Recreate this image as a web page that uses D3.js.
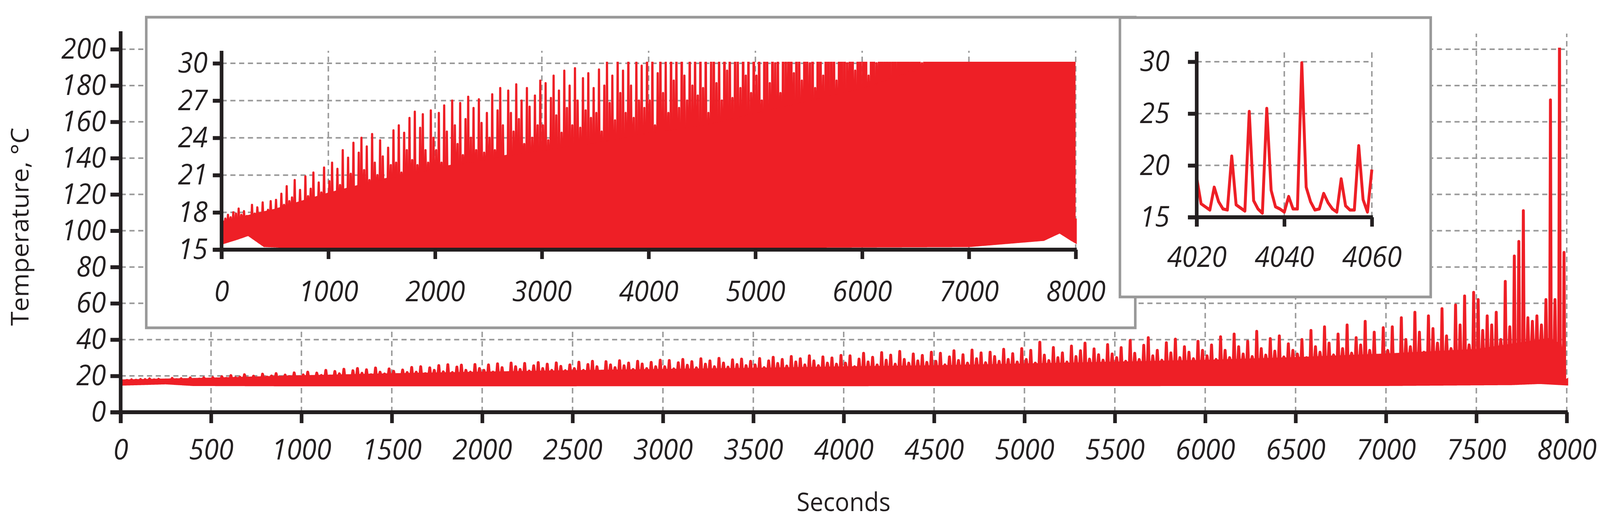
<!DOCTYPE html>
<html><head><meta charset="utf-8">
<script src="https://cdn.jsdelivr.net/npm/d3@7/dist/d3.min.js"></script>
<style>html,body{margin:0;padding:0;overflow:hidden;background:#fff}svg{display:block;width:100vw;height:100vh}</style></head>
<body><svg id="c" viewBox="0 0 4376 1336" preserveAspectRatio="none"></svg>
<script>
// ---- data ----
const mainXTicks = d3.range(0, 8001, 500);
const mainYTicks = d3.range(0, 201, 20);
const inset1XTicks = [0,1000,2000,3000,4000,5000,6000,7000,8000];
const inset1YTicks = [15,18,21,24,27,30];
const inset2XTicks = [4020,4040,4060];
const inset2YTicks = [15,20,25,30];
// spike peaks, 20 per 500 s segment (every 25 s)
const spikePeaks = [
 17.2,17.5,17.8,17.6,18.0,17.9,18.3,17.8,18.1,17.7,17.5,18.6,17.9,18.4,17.6,18.8,17.7,18.2,18.9,17.8,
 19.0,18.2,19.5,18.6,20.1,18.9,19.2,20.6,18.7,19.8,18.5,20.9,19.3,19.9,21.2,18.8,20.4,19.6,21.6,19.0,
 20.5,22.0,19.5,21.5,20.2,23.0,19.8,22.4,21.1,23.6,20.0,22.8,24.0,21.4,23.3,20.6,24.3,22.0,21.0,23.8,
 22.5,20.5,23.2,21.8,24.6,22.0,25.0,21.2,24.4,23.0,25.6,22.2,26.1,21.8,24.8,25.9,23.0,22.0,26.2,24.0,
 23.0,26.0,22.0,26.6,24.5,21.5,27.0,25.0,23.5,26.8,22.6,25.5,27.3,24.0,26.4,23.0,27.1,25.2,22.8,26.0,
 24,27.5,23,26.2,28,25,22.5,27.8,26,24.5,28.3,25.5,27,23.5,28.0,26.5,24,27.4,25,28.6,
 25,28.4,23.8,27.2,29,25.8,27.8,24.4,29.4,26.4,28.2,25,29.6,27,24.8,28.8,26.2,29.2,25.6,28,
 26,29.5,24.5,28.2,30.2,26.8,29,25.4,30.6,27.6,29.4,26,31,28.2,25.6,30.4,27,29.8,26.4,31.2,
 27,31,25,29.2,32.4,27.6,30.2,26,32.8,28.6,31.4,26.4,33.4,29,27,32,28.2,31.2,27.4,33,
 28,32.4,26,30.4,33.8,28.4,31.6,27,34.2,29.4,32.6,27.2,33,30.6,28,34.6,29,32.2,27.6,35,
 29,34,27,38.5,31.4,28.4,35.6,30,32.6,27.6,36.4,30.6,33.8,38,29.2,34.8,31.6,28.6,37.2,32,
 30,35.5,28,39.5,32.4,29,36.8,41,31,34,28.6,38.2,32.6,40.2,30,36,33,29.4,39,34,
 31,37,29,41.5,34,30,43,36,32,39,30.6,44.5,35,31.4,40.5,33.6,42,30.4,37.6,34,
 32,40,30,45,36,33,47,38,31.5,43,35,48,32.5,41,37,50,34,44,31,46.5,
 34,47,31,52,40,36,55,44,33,53,46,38,57,42,35,59,48,64,37,66,
 62,45,53,48,55,40,72,47,86,94,111,52,50,53,48,62,172,62,209,88
];
const spikeTimes = spikePeaks.map((_, i) => 10 + i * 25);
const bandTimes = [0,500,1000,1500,2000,2500,3000,3500,4000,4500,5000,5500,6000,6500,7000,7500,7900,7965,7985,8000];
const bandTops  = [17.2,18.2,19.5,20.6,21.5,22.3,23,23.6,24.4,25,26,27,28,29.5,31.5,34,40,37,16.5,17.5];
const baseTimes = [0,150,250,400,1000,4000,7000,7700,7850,7960,8000];
const baseVals  = [15.5,15.9,16.2,15.3,15.1,15.2,15.3,15.8,16.4,15.8,15.6];
const zoomTimes = d3.range(4020, 4061);
const zoomVals = [18.8,16.3,16.0,15.7,17.9,16.5,15.8,15.7,20.9,16.2,15.9,15.6,25.2,16.6,15.8,15.4,25.5,17.6,16.0,15.8,15.5,17.0,15.8,15.8,29.9,17.9,16.5,15.7,15.8,17.3,16.4,15.8,15.5,18.7,16.1,15.7,15.7,21.9,16.7,15.5,19.6];

// ---- drawing ----
const svg = d3.select("#c");
const RED = "#ee1f26", GRID = "#999", INK = "#231f20";
const FONT = "'Open Sans', sans-serif";
const bandAt = d3.scaleLinear().domain(bandTimes).range(bandTops);
const baseAt = d3.scaleLinear().domain(baseTimes).range(baseVals);

function panel(g, x, y, opt) {
  const [x0,x1] = x.range(), [y0,y1] = y.range();
  g.append("g").selectAll("line").data(opt.yt.filter(v => v !== y.domain()[0])).join("line")
    .attr("x1", x0).attr("x2", x1).attr("y1", d => y(d)).attr("y2", d => y(d))
    .attr("stroke", GRID).attr("stroke-width", 4).attr("stroke-dasharray", "14 10");
  g.append("g").selectAll("line").data(opt.xt.filter(v => v !== x.domain()[0])).join("line")
    .attr("x1", d => x(d)).attr("x2", d => x(d)).attr("y1", y0).attr("y2", opt.gridTop)
    .attr("stroke", GRID).attr("stroke-width", 4).attr("stroke-dasharray", "14 10");
  const clipId = "clip" + opt.id;
  g.append("clipPath").attr("id", clipId).append("rect")
    .attr("x", x0 - 5).attr("y", y1 - 4).attr("width", x1 - x0 + 10).attr("height", y0 - y1 + 4);
  const dg = g.append("g").attr("clip-path", `url(#${clipId})`);
  opt.draw(dg);
  const ax = g.append("g").attr("transform", `translate(0,${y0})`)
    .call(d3.axisBottom(x).tickValues(opt.xt).tickSize(opt.tick).tickPadding(opt.xpad).tickFormat(d3.format("d")));
  const ay = g.append("g").attr("transform", `translate(${x0},0)`)
    .call(d3.axisLeft(y).tickValues(opt.yt).tickSize(opt.tick).tickPadding(opt.ypad).tickFormat(d3.format("d")));
  [ax, ay].forEach(a => {
    a.select(".domain").remove();
    a.selectAll(".tick line").attr("stroke", INK).attr("stroke-width", 10);
    a.selectAll("text").attr("fill", INK).attr("font-family", FONT).attr("font-style", "italic")
      .attr("font-size", opt.fs);
  });
  g.append("line").attr("x1", x0 - opt.tick).attr("x2", x1 + 3).attr("y1", y0).attr("y2", y0)
    .attr("stroke", INK).attr("stroke-width", 10);
  g.append("line").attr("x1", x0).attr("x2", x0).attr("y1", y0 + opt.tick).attr("y2", opt.axisTop)
    .attr("stroke", INK).attr("stroke-width", 10);
}

function denseDraw(x, y, sw, dx) {
  return dg => {
    const area = d3.area().x(d => x(d)).y0(d => y(baseAt(d))).y1(d => y(bandAt(d)));
    const ts = d3.range(0, 8001, 5);
    dg.append("path").datum(ts).attr("d", area).attr("fill", RED).attr("stroke", RED).attr("stroke-width", sw);
    const line = d3.line().x(d => x(d[0])).y(d => y(d[1]));
    spikeTimes.forEach((t, i) => {
      const pts = [[t - dx, bandAt(t - dx)], [t, spikePeaks[i]], [t + dx, bandAt(t + dx)]];
      dg.append("path").attr("d", line(pts)).attr("fill", RED).attr("stroke", RED)
        .attr("stroke-width", sw).attr("stroke-linejoin", "round");
    });
  };
}

const mx = d3.scaleLinear().domain([0, 8000]).range([330, 4285]);
const my = d3.scaleLinear().domain([0, 200]).range([1055, 126]);
panel(svg.append("g"), mx, my, {id: "m", xt: mainXTicks, yt: mainYTicks, tick: 28, xpad: 40, ypad: 12,
  fs: 74, gridTop: 86, axisTop: 80, draw: denseDraw(mx, my, 8, 4)});
svg.append("text").attr("x", 2307).attr("y", 1308).attr("text-anchor", "middle")
  .attr("font-family", FONT).attr("font-size", 66).attr("fill", INK).text("Seconds");
svg.append("text").attr("transform", "translate(78,580) rotate(-90)").attr("text-anchor", "middle")
  .attr("font-family", FONT).attr("font-size", 66).attr("fill", INK).text("Temperature, °C");

svg.append("rect").attr("x", 400).attr("y", 44).attr("width", 2705).attr("height", 795)
  .attr("fill", "#fff").attr("stroke", GRID).attr("stroke-width", 7);
const ix = d3.scaleLinear().domain([0, 8000]).range([606, 2942]);
const iy = d3.scaleLinear().domain([15, 30]).range([639, 162]);
panel(svg.append("g"), ix, iy, {id: "i1", xt: inset1XTicks, yt: inset1YTicks, tick: 24, xpad: 55, ypad: 14,
  fs: 74, gridTop: 130, axisTop: 130, draw: denseDraw(ix, iy, 6, 4)});

svg.append("rect").attr("x", 3063).attr("y", 45).attr("width", 850).attr("height", 715)
  .attr("fill", "#fff").attr("stroke", GRID).attr("stroke-width", 7);
const zx = d3.scaleLinear().domain([4020, 4060]).range([3273, 3752]);
const zy = d3.scaleLinear().domain([15, 30]).range([556, 158]);
panel(svg.append("g"), zx, zy, {id: "i2", xt: inset2XTicks, yt: inset2YTicks, tick: 24, xpad: 50, ypad: 50,
  fs: 74, gridTop: 130, axisTop: 132, draw: dg => {
    dg.append("path").datum(zoomTimes.map((t, i) => [t, zoomVals[i]]))
      .attr("d", d3.line().x(d => zx(d[0])).y(d => zy(d[1])))
      .attr("fill", "none").attr("stroke", RED).attr("stroke-width", 8).attr("stroke-linejoin", "round");
  }});
</script></body></html>
